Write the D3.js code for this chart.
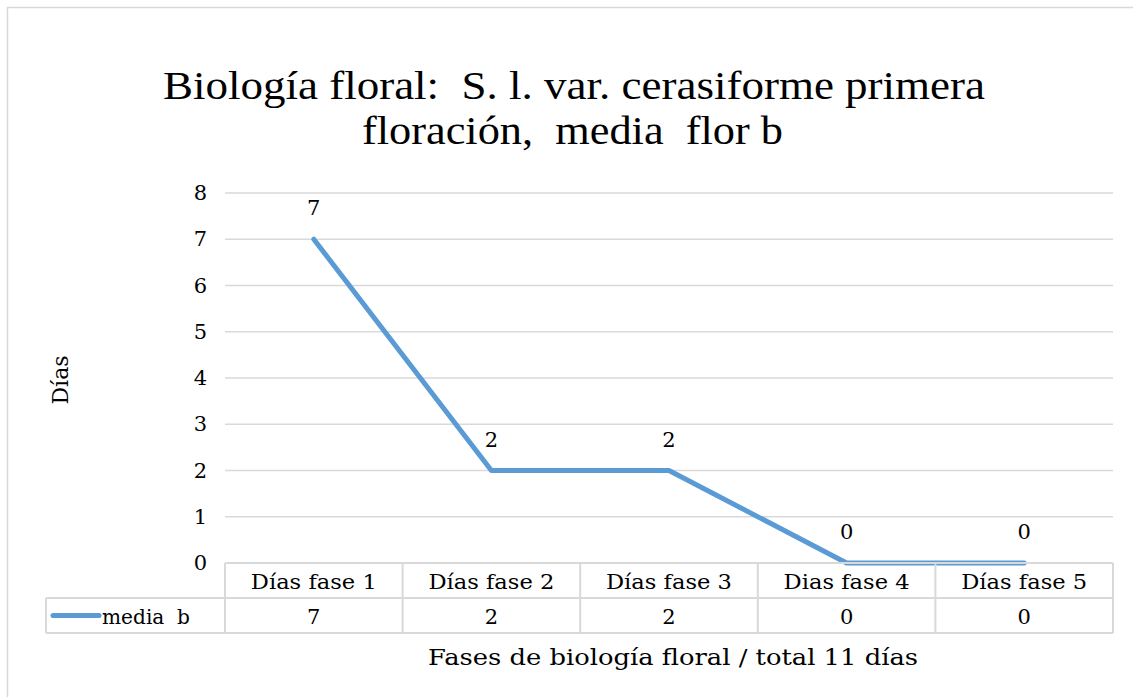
<!DOCTYPE html>
<html>
<head>
<meta charset="utf-8">
<script src="https://cdn.jsdelivr.net/npm/d3@7"></script>
<style>
  body { margin: 0; background: #fff; }
  svg text { fill: #000; white-space: pre; }
</style>
</head>
<body>
<svg id="chart" width="1133" height="697"></svg>
<script>
const categories = ["Días fase 1", "Días fase 2", "Días fase 3", "Dias fase 4", "Días fase 5"];
const values = [7, 2, 2, 0, 0];
const seriesName = "media  b";
const yTicks = [0, 1, 2, 3, 4, 5, 6, 7, 8];
const titleLines = ["Biología floral:  S. l. var. cerasiforme primera", "floración,  media  flor b"];
const xTitle = "Fases de biología floral / total 11 días";
const yTitle = "Días";

const svg = d3.select("#chart");
const serif = "'DejaVu Serif', serif";
const grey = "#d9d9d9";
const blue = "#5b9bd5";

const plotLeft = 225, plotRight = 1113, plotTop = 193, plotBottom = 563;
const rowH = 35;

// chart frame (only top/left visible)
svg.append("rect")
  .attr("x", 7.5).attr("y", 7.5)
  .attr("width", 1140).attr("height", 700)
  .attr("fill", "none").attr("stroke", grey).attr("stroke-width", 1.5);

// title
svg.append("g").selectAll("text")
  .data(titleLines)
  .enter().append("text")
  .attr("x", (d, i) => i === 0 ? 163 : 362)
  .attr("y", (d, i) => 99 + i * 45)
  .attr("font-family", "'Liberation Serif', serif")
  .attr("font-size", 40)
  .attr("textLength", (d, i) => i === 0 ? 822 : 421)
  .attr("lengthAdjust", "spacingAndGlyphs")
  .text(d => d);

const x = d3.scaleBand().domain(categories).range([plotLeft, plotRight]);
const y = d3.scaleLinear().domain([0, 8]).range([plotBottom, plotTop]);

// gridlines
svg.append("g").selectAll("line")
  .data(yTicks.filter(t => t > 0))
  .enter().append("line")
  .attr("x1", plotLeft).attr("x2", plotRight)
  .attr("y1", d => y(d)).attr("y2", d => y(d))
  .attr("stroke", grey).attr("stroke-width", 1.5);

// y axis labels
const yAxis = d3.axisLeft(y).tickValues(yTicks).tickSize(0).tickPadding(18);
const yg = svg.append("g").attr("transform", `translate(${plotLeft},0)`).call(yAxis);
yg.select(".domain").remove();
yg.selectAll("text")
  .attr("font-family", serif).attr("font-size", 21).attr("fill", "#000");

// line
const line = d3.line()
  .x((d, i) => x(categories[i]) + x.bandwidth() / 2)
  .y(d => y(d));
svg.append("path")
  .datum(values)
  .attr("d", line)
  .attr("fill", "none")
  .attr("stroke", blue)
  .attr("stroke-width", 5)
  .attr("stroke-linejoin", "round")
  .attr("stroke-linecap", "round");

// data labels
svg.append("g").selectAll("text")
  .data(values)
  .enter().append("text")
  .attr("x", (d, i) => x(categories[i]) + x.bandwidth() / 2)
  .attr("y", d => y(d) - 24)
  .attr("text-anchor", "middle")
  .attr("font-family", serif).attr("font-size", 21)
  .text(d => d);

// data table
const table = svg.append("g");
const cellStroke = (x1, y1, x2, y2) => table.append("line")
  .attr("x1", x1).attr("y1", y1).attr("x2", x2).attr("y2", y2)
  .attr("stroke", grey).attr("stroke-width", 2);
const legendLeft = 46;
cellStroke(plotLeft, plotBottom, plotRight, plotBottom);
cellStroke(legendLeft, plotBottom + rowH, plotRight, plotBottom + rowH);
cellStroke(legendLeft, plotBottom + 2 * rowH, plotRight, plotBottom + 2 * rowH);
cellStroke(legendLeft, plotBottom + rowH, legendLeft, plotBottom + 2 * rowH);
categories.forEach(c => cellStroke(x(c), plotBottom, x(c), plotBottom + 2 * rowH));
cellStroke(plotRight, plotBottom, plotRight, plotBottom + 2 * rowH);

table.selectAll("text.cat")
  .data(categories)
  .enter().append("text")
  .attr("class", "cat")
  .attr("x", d => x(d) + x.bandwidth() / 2 - 63)
  .attr("y", plotBottom + rowH / 2 + 8)
  .attr("font-family", serif).attr("font-size", 21)
  .attr("textLength", 126)
  .attr("lengthAdjust", "spacingAndGlyphs")
  .text(d => d);

table.selectAll("text.val")
  .data(values)
  .enter().append("text")
  .attr("class", "val")
  .attr("x", (d, i) => x(categories[i]) + x.bandwidth() / 2)
  .attr("y", plotBottom + rowH * 1.5 + 8)
  .attr("text-anchor", "middle")
  .attr("font-family", serif).attr("font-size", 21)
  .text(d => d);

// legend key in table
table.append("line")
  .attr("x1", 53).attr("x2", 99)
  .attr("y1", plotBottom + rowH * 1.5).attr("y2", plotBottom + rowH * 1.5)
  .attr("stroke", blue).attr("stroke-width", 5).attr("stroke-linecap", "round");
table.append("text")
  .attr("x", 102).attr("y", plotBottom + rowH * 1.5 + 8)
  .attr("font-family", serif).attr("font-size", 21)
  .attr("textLength", 88)
  .attr("lengthAdjust", "spacingAndGlyphs")
  .text(seriesName);

// axis titles
svg.append("text")
  .attr("x", 428).attr("y", 665)
  .attr("font-family", serif).attr("font-size", 22)
  .attr("textLength", 490)
  .attr("lengthAdjust", "spacingAndGlyphs")
  .text(xTitle);

svg.append("text")
  .attr("transform", "translate(68,380) rotate(-90)")
  .attr("text-anchor", "middle")
  .attr("font-family", serif).attr("font-size", 22)
  .text(yTitle);
</script>
</body>
</html>
